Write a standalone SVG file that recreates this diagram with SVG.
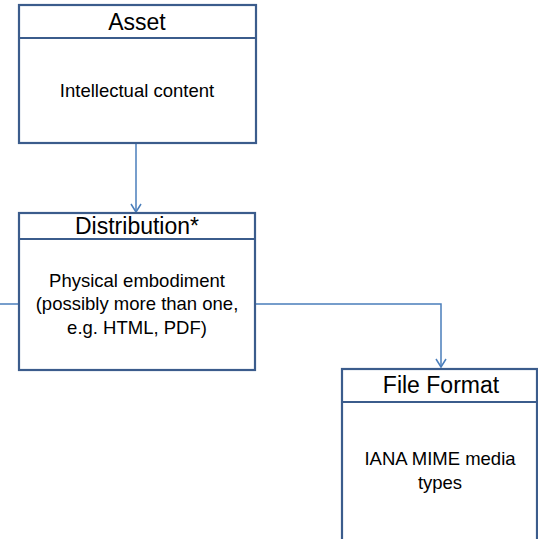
<svg xmlns="http://www.w3.org/2000/svg" width="538" height="539" viewBox="0 0 538 539">
<style>
.box{fill:#fff;stroke:#3b5c8c;stroke-width:2.2}
.div{stroke:#3b5c8c;stroke-width:2.2}
.title{font-family:"Liberation Sans",Arial,sans-serif;font-size:23px;fill:#000;text-anchor:middle}
.body{font-family:"Liberation Sans",Arial,sans-serif;font-size:18.5px;fill:#000;text-anchor:middle}
.conn{fill:none;stroke:#4a7ebb;stroke-width:1.5}
</style>
<defs>
<marker id="arr" markerWidth="12" markerHeight="12" refX="9" refY="6" orient="auto" markerUnits="userSpaceOnUse" viewBox="0 0 12 12">
<path d="M1,1 L9,6 L1,11" fill="none" stroke="#4a7ebb" stroke-width="1.5"/>
</marker>
</defs>
<rect width="538" height="539" fill="#fff"/>
<g id="connectors">
<path class="conn" d="M136,143 V212" marker-end="url(#arr)"/>
<path class="conn" d="M0,304 H19"/>
<path class="conn" d="M255,304 H441 V367" marker-end="url(#arr)"/>
</g>
<g id="asset">
<rect class="box" x="19" y="5" width="237" height="138"/>
<line class="div" x1="19" y1="38" x2="256" y2="38"/>
<text class="title" x="137" y="30">Asset</text>
<text class="body" x="137" y="97">Intellectual content</text>
</g>
<g id="distribution">
<rect class="box" x="19" y="213" width="236" height="157"/>
<line class="div" x1="19" y1="239" x2="255" y2="239"/>
<text class="title" x="137" y="234">Distribution*</text>
<text class="body" x="137" y="287">Physical embodiment</text>
<text class="body" x="137" y="310">(possibly more than one,</text>
<text class="body" x="137" y="334">e.g. HTML, PDF)</text>
</g>
<g id="fileformat">
<rect class="box" x="342" y="369" width="195" height="180"/>
<line class="div" x1="342" y1="402" x2="537" y2="402"/>
<text class="title" x="441" y="393">File Format</text>
<text class="body" x="440" y="465">IANA MIME media</text>
<text class="body" x="440" y="489">types</text>
</g>
</svg>
